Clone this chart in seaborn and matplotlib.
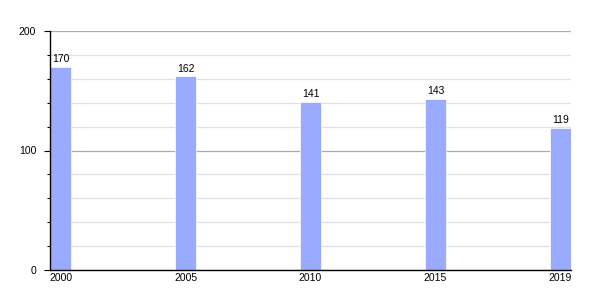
import matplotlib
matplotlib.use("Agg")
import matplotlib.pyplot as plt
import seaborn as sns
import pandas as pd
from matplotlib.ticker import MultipleLocator

years = ["2000", "2005", "2010", "2015", "2019"]
values = [170, 162, 141, 143, 119]

sns.set_theme(style="white")
plt.rcParams['font.family'] = ['Liberation Sans', 'DejaVu Sans']

df = pd.DataFrame({"year": years, "value": values})

fig = plt.figure(figsize=(6, 3), dpi=100)
ax = fig.add_axes([50/600, 30/300, 521/600, 239/300])

bw = 0.168
sns.barplot(data=df, x="year", y="value", color="#99aaff", saturation=1,
            width=bw, ax=ax, edgecolor="white", linewidth=0.5, zorder=3)
for p in ax.patches:
    p.set_zorder(3)

ax.set_xlim(-bw/2, len(years) - 1 + bw/2)
ax.set_ylim(0, 200)
ax.yaxis.set_major_locator(MultipleLocator(100))
ax.yaxis.set_minor_locator(MultipleLocator(20))
ax.grid(axis="y", which="major", color="#aaaaaa", linewidth=0.9, zorder=0)
ax.grid(axis="y", which="minor", color="#e0e0e0", linewidth=0.9, zorder=0)
ax.set_axisbelow(True)

for s in ["top", "right"]:
    ax.spines[s].set_visible(False)
for s in ["left", "bottom"]:
    ax.spines[s].set_visible(True)
    ax.spines[s].set_color("black")
    ax.spines[s].set_linewidth(1.0)
    ax.spines[s].set_zorder(4)

ax.tick_params(axis="y", which="major", left=True, length=4, width=0.8,
               color="black", labelsize=7.5, pad=6, labelcolor="black")
ax.tick_params(axis="y", which="minor", left=True, length=2, width=0.8, color="black")
ax.tick_params(axis="x", which="both", bottom=False, length=0, labelsize=7.5,
               pad=2, labelcolor="black")
ax.set_xlabel("")
ax.set_ylabel("")

for c in ax.containers:
    ax.bar_label(c, labels=[str(v) for v in values], padding=2, fontsize=7.5, color="black")

fig.savefig("out.png", dpi=100)
